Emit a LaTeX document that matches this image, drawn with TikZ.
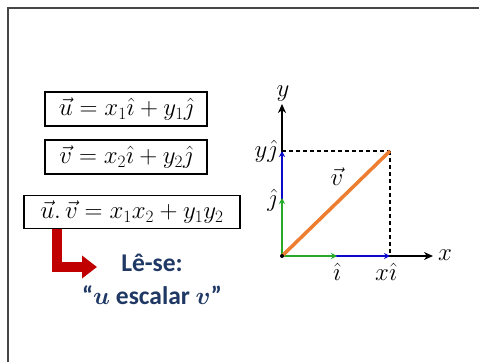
\documentclass[tikz,border=0pt]{standalone}
\usepackage{fontspec}
\newfontfamily\calib{Carlito}
\usetikzlibrary{arrows.meta}
\definecolor{frame}{RGB}{70,70,70}
\definecolor{darkred}{RGB}{192,0,0}
\definecolor{navy}{RGB}{31,56,100}
\definecolor{vblue}{RGB}{10,10,200}
\definecolor{vgreen}{RGB}{40,170,40}
\definecolor{vorange}{RGB}{237,125,49}
\begin{document}
\begin{tikzpicture}[x=1pt,y=1pt,
  eqbox/.style={draw=black,line width=1.6pt,inner sep=0pt,font=\fontsize{24}{28}\selectfont},
  vec/.style={line width=2.4pt,-{Stealth[length=6pt,width=6pt]}},
  axis/.style={line width=2pt,black,-{Stealth[length=9pt,width=8pt]}},
  dashln/.style={line width=1.6pt,dash pattern=on 4pt off 3pt},
  lbl/.style={font=\fontsize{26}{30}\selectfont,inner sep=0pt}]
\useasboundingbox (0,0) rectangle (479,362);
\fill[white] (0,0) rectangle (479,362);
\draw[frame,line width=2pt] (8,0) -- (8,354) -- (479,354);
% equation boxes
\node[eqbox,minimum width=162pt,minimum height=34pt] (b1) at (126,253) {$\vec{u}=x_1\hat{\imath}+y_1\hat{\jmath}$};
\node[eqbox,minimum width=162pt,minimum height=34pt] (b2) at (126,205) {$\vec{v}=x_2\hat{\imath}+y_2\hat{\jmath}$};
\node[eqbox,minimum width=216pt,minimum height=33pt,font=\fontsize{25}{29}\selectfont] (b3) at (132,150) {$\vec{u}.\,\vec{v}=x_1x_2+y_1y_2$};
% red arrow
\coordinate (r0) at (57,133.5);
\coordinate (r1) at (57,95);
\coordinate (r2) at (97,95);
\draw[darkred,line width=10pt,-{Triangle[length=15pt,width=22pt]}] (r0) -- (r1) -- (r2);
\node[text=navy,font=\calib\bfseries\fontsize{25.5}{30}\selectfont] (ls) at (152,99) {Lê-se:};
\node[text=navy,font=\calib\bfseries\boldmath\fontsize{25.5}{30}\selectfont] (ue) at (152,67) {“$u$ escalar $v$”};
% axes
\coordinate (O) at (282,106);
\coordinate (Yt) at (282,258);
\coordinate (Xt) at (433,106);
\coordinate (P) at (390,211);
\coordinate (Yj) at (282,211);
\coordinate (J) at (282,164);
\coordinate (I) at (337,106);
\coordinate (Xi) at (390,106);
\draw[axis] (O) -- (Yt);
\draw[axis] (O) -- (Xt);
\draw[dashln] (Yj) -- (P);
\draw[dashln] (P) -- (Xi);
\draw[vec,vblue] (O) -- (Yj);
\draw[vec,vblue] (O) -- (Xi);
\draw[vec,vgreen] (O) -- (J);
\draw[vec,vgreen] (O) -- (I);
\draw[line width=3.5pt,vorange] (O) -- (P);
\fill[black] (O) circle (2pt);
\node[lbl] (ly) at (283,268) {$y$};
\node[lbl] (lx) at (445,107) {$x$};
\node[lbl,anchor=east] (lyj) at (277,211) {$y\hat{\jmath}$};
\node[lbl,anchor=east] (lj) at (277,162) {$\hat{\jmath}$};
\node[lbl] (li) at (337,90) {$\hat{\imath}$};
\node[lbl] (lxi) at (386,90) {$x\hat{\imath}$};
\node[lbl] (lv) at (337,185) {$\vec{v}$};
\end{tikzpicture}
\end{document}
